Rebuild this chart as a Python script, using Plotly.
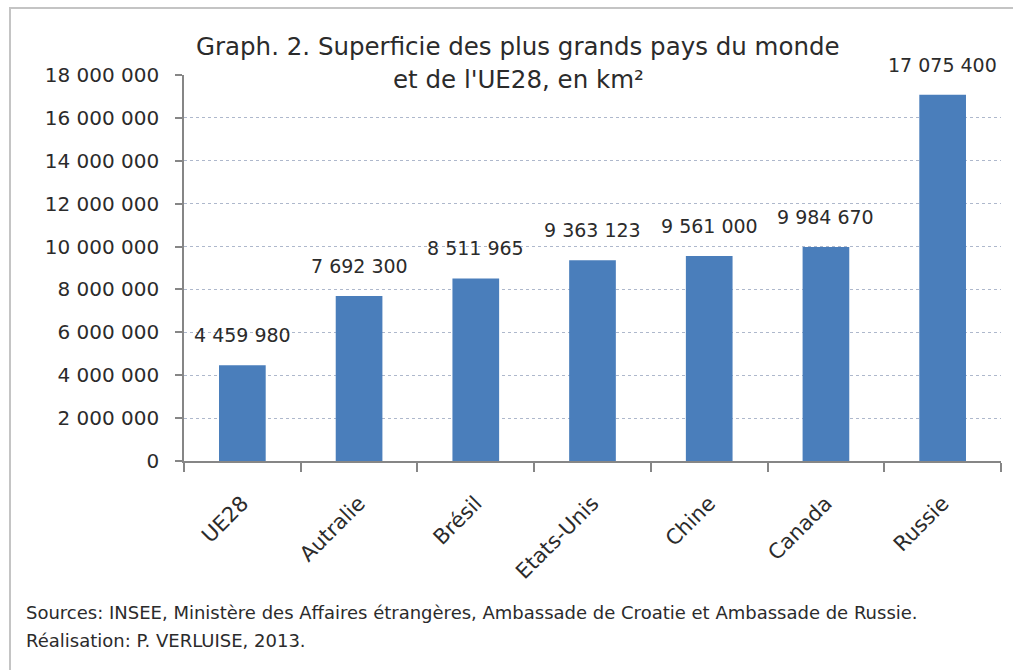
import plotly.graph_objects as go

# superficie en km2
pays = ["UE28", "Autralie", "Brésil", "Etats-Unis", "Chine", "Canada", "Russie"]
superficie = [4459980, 7692300, 8511965, 9363123, 9561000, 9984670, 17075400]
y_ticks = [0, 2000000, 4000000, 6000000, 8000000, 10000000, 12000000,
           14000000, 16000000, 18000000]

FONT = "DejaVu Sans"
TXT = "#2b2b2b"

W, H = 1013, 670
L, R, T, B = 184, 12, 75, 209
pw, ph = W - L - R, H - T - B


def px(x):
    return (x - L) / pw


def py(y):
    return (H - B - y) / ph


def fmt(v):
    return f"{v:,}".replace(",", " ")


fig = go.Figure()
fig.add_trace(go.Bar(
    x=pays,
    y=superficie,
    width=0.4,
    marker_color="#4A7EBB",
    marker_line_width=0,
    showlegend=False,
))

# etiquettes de donnees au-dessus des barres
for p, v in zip(pays, superficie):
    fig.add_annotation(x=p, y=v, text=fmt(v), showarrow=False,
                       yanchor="bottom", yshift=17,
                       font=dict(family=FONT, size=19, color=TXT))

fig.add_annotation(xref="paper", yref="paper", x=px(518), y=py(47),
                   text="Graph. 2. Superficie des plus grands pays du monde",
                   showarrow=False, xanchor="center", yanchor="middle",
                   font=dict(family=FONT, size=24.5, color=TXT))
fig.add_annotation(xref="paper", yref="paper", x=px(518), y=py(79),
                   text="et de l'UE28, en km²",
                   showarrow=False, xanchor="center", yanchor="middle",
                   font=dict(family=FONT, size=24.5, color=TXT))

fig.add_annotation(xref="paper", yref="paper", x=px(24), y=py(612),
                   text="Sources: INSEE, Ministère des Affaires étrangères, "
                        "Ambassade de Croatie et Ambassade de Russie.",
                   showarrow=False, xanchor="left", yanchor="middle",
                   font=dict(family=FONT, size=18, color=TXT))
fig.add_annotation(xref="paper", yref="paper", x=px(24), y=py(640),
                   text="Réalisation: P. VERLUISE, 2013.",
                   showarrow=False, xanchor="left", yanchor="middle",
                   font=dict(family=FONT, size=18, color=TXT))

# cadre
fig.add_shape(type="rect", xref="paper", yref="paper",
              x0=px(10), x1=px(1030), y0=py(8), y1=py(700),
              line=dict(color="#C4C4C4", width=2), layer="below")

fig.update_layout(
    width=W, height=H,
    margin=dict(l=L, r=R, t=T, b=B),
    paper_bgcolor="white",
    plot_bgcolor="white",
    separators=", ",
    bargap=0.6,
    font=dict(family=FONT, color=TXT),
)
fig.update_xaxes(
    showline=True, linecolor="#868686", linewidth=1.5,
    ticks="outside", tickson="boundaries", ticklen=9,
    tickcolor="#868686", tickwidth=1.5,
    tickangle=-45, ticklabelstandoff=20,
    tickfont=dict(family=FONT, size=21, color=TXT),
    showgrid=False,
)
fig.update_yaxes(
    range=[0, 18000000], tickvals=y_ticks, tickformat=",d",
    showline=True, linecolor="#868686", linewidth=1.5,
    ticks="outside", ticklen=7, tickcolor="#868686", tickwidth=1.5,
    ticklabelstandoff=12,
    tickfont=dict(family=FONT, size=20, color=TXT),
    showgrid=True, gridcolor="#AEB8CC", griddash="3px,3px", gridwidth=1,
    zeroline=False,
)

fig.write_html("out.html", config={"displayModeBar": False},
               post_script="document.body.style.margin='0';")
